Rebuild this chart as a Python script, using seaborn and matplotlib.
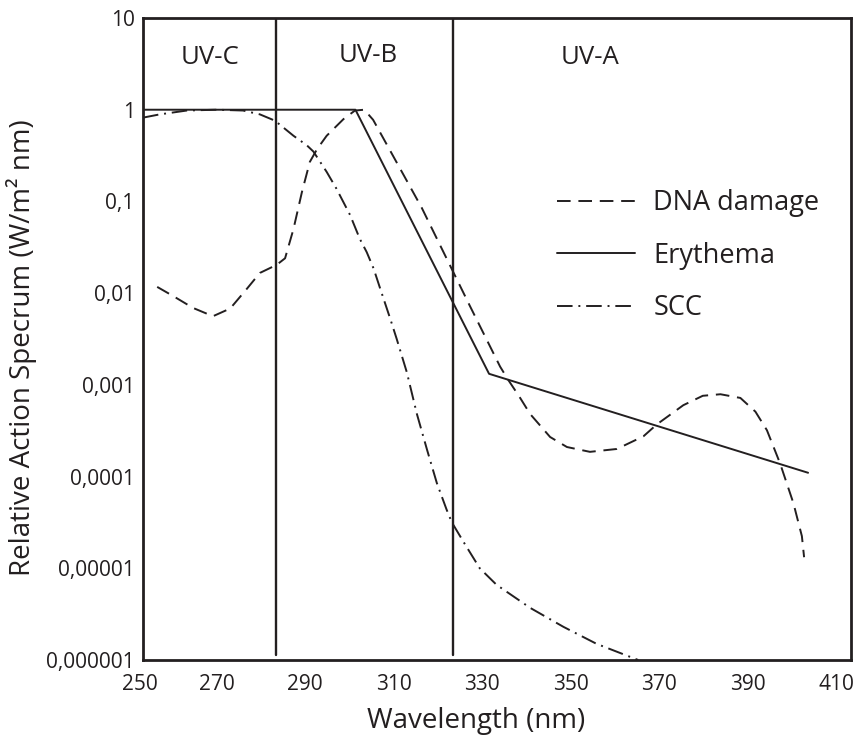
import numpy as np
import pandas as pd
import matplotlib
matplotlib.use("Agg")
import matplotlib.pyplot as plt
import matplotlib.transforms as mtransforms
from matplotlib.lines import Line2D
import seaborn as sns

# ---- data ----
ery_wl = [250, 298, 328.2, 400.3]
ery_val = [1.0, 1.0, 0.00132, 0.00011]

dna_wl = [253.2, 256.8, 261.3, 265.8, 269.7, 273.5, 276.4, 279.4, 280.0,
          282.1, 284.0, 285.9, 287.7, 289.3, 291.5, 295.3, 297.9, 300.0,
          302.0, 313.0, 323.9, 330.7, 332.6, 335.0, 337.5, 342.0, 345.8,
          351.0, 357.1, 363.1, 366.1, 372.1, 376.5, 380.5, 385.0, 388.4,
          391.0, 394.0, 397.0, 398.9, 399.4]
dna_val = [0.0117, 0.0093, 0.0069, 0.0056, 0.0068, 0.0112, 0.0166, 0.0195, 0.020,
           0.024, 0.050, 0.126, 0.27, 0.37, 0.52, 0.79, 0.98, 1.0,
           0.776, 0.085, 0.0072, 0.00158, 0.00112, 0.00075, 0.00048, 0.00027, 0.00021,
           0.000186, 0.0002, 0.000275, 0.00037, 0.0006, 0.00076, 0.00079, 0.00072, 0.00051,
           0.00032, 0.000138, 0.000051, 0.0000224, 0.0000132]

scc_wl = [250, 253.8, 259.9, 266.6, 272.6, 276.4, 279.8, 284.0, 287.0, 288.5,
          291.5, 293.7, 296.8, 299.0, 300.55, 302.1, 303.6, 305.9, 307.3, 309.6,
          311.9, 314.2, 316.4, 318.6, 319.8, 322.4, 326.1, 329.9, 337.5, 345.0,
          352.5, 361.9]
scc_val = [0.82, 0.89, 0.98, 1.0, 0.98, 0.89, 0.76, 0.52, 0.41, 0.35,
           0.21, 0.138, 0.071, 0.039, 0.028, 0.0186, 0.0112, 0.0052, 0.0032, 0.00138,
           0.00048, 0.000195, 0.000085, 0.0000437, 0.0000316, 0.0000195, 0.00001, 0.0000066, 0.0000037, 0.0000023,
           0.0000015, 0.000001]

x_ticks = [250, 270, 290, 310, 330, 350, 370, 390, 410]
y_ticks = [1e-6, 1e-5, 1e-4, 1e-3, 1e-2, 1e-1, 1, 10]
y_tick_labels = ["0,000001", "0,00001", "0,0001", "0,001", "0,01", "0,1", "1", "10"]
band_edges = [280, 320]
band_names = ["UV-C", "UV-B", "UV-A"]
band_label_x = [265.1, 300.8, 351.0]
band_label_y = [3.7, 3.9, 3.7]

# ---- style ----
sns.set_theme(style="white")
plt.rcParams['font.family'] = ['Open Sans', 'DejaVu Sans']
ink = '#231f20'

fig = plt.figure(figsize=(8.57, 7.38), dpi=100)
ax = fig.add_axes([0.1669, 0.1057, 0.8261, 0.8699])

lw = 1.4
dash_style = (0, (7, 4))
dashdot_style = (0, (8, 3, 1, 3))

sns.lineplot(x=ery_wl, y=ery_val, ax=ax, color=ink, lw=lw, linestyle='-', legend=False, sort=False)
sns.lineplot(x=dna_wl, y=dna_val, ax=ax, color=ink, lw=lw, linestyle=dash_style, legend=False, sort=False)
sns.lineplot(x=scc_wl, y=scc_val, ax=ax, color=ink, lw=lw, linestyle=dashdot_style, legend=False, sort=False)

for e in band_edges:
    ax.axvline(e, ymin=0.008, ymax=1, color=ink, lw=1.7)

ax.set_yscale('log')
ax.set_xlim(250, 410)
ax.set_ylim(1e-6, 10)
ax.set_xticks(x_ticks)
ax.set_xticklabels([str(t) for t in x_ticks])
ax.set_yticks(y_ticks)
ax.set_yticklabels(y_tick_labels)
ax.yaxis.set_minor_locator(matplotlib.ticker.NullLocator())

for s in ax.spines.values():
    s.set_color(ink)
    s.set_linewidth(2.0)
    s.set_visible(True)

ax.tick_params(axis='both', which='major', direction='inout', length=6, width=2.0,
               color=ink, labelcolor=ink, labelsize=15)
ax.tick_params(axis='x', pad=7)
ax.tick_params(axis='y', pad=3)

# x tick labels sit just left of their ticks in the reference
for i, lab in enumerate(ax.get_xticklabels()):
    if i == 0:
        lab.set_horizontalalignment('center')
        off = mtransforms.ScaledTranslation(-3.5 / 100, 0, fig.dpi_scale_trans)
    else:
        lab.set_horizontalalignment('right')
        off = mtransforms.ScaledTranslation(3 / 100, 0, fig.dpi_scale_trans)
    lab.set_transform(lab.get_transform() + off)

ax.set_xlabel("Wavelength (nm)", fontsize=20, color=ink)
ax.xaxis.set_label_coords(0.470, -0.073)
ax.set_ylabel("Relative Action Specrum (W/m² nm)", fontsize=20, color=ink)
ax.yaxis.set_label_coords(-0.150, 0.486)

for name, bx, by in zip(band_names, band_label_x, band_label_y):
    ax.text(bx, by, name, ha='center', va='center', fontsize=18.5, color=ink)

handles = [Line2D([], [], color=ink, lw=lw, linestyle=dash_style),
           Line2D([], [], color=ink, lw=lw, linestyle='-'),
           Line2D([], [], color=ink, lw=lw, linestyle=dashdot_style)]
labels = ["DNA damage", "Erythema", "SCC"]
leg = ax.legend(handles, labels, loc='upper left', bbox_to_anchor=(0.5700, 0.750),
                frameon=False, fontsize=19.5, handlelength=2.88, handletextpad=0.66,
                labelspacing=0.9, borderaxespad=0)
for t in leg.get_texts():
    t.set_color(ink)

fig.savefig("out.png", dpi=100)
